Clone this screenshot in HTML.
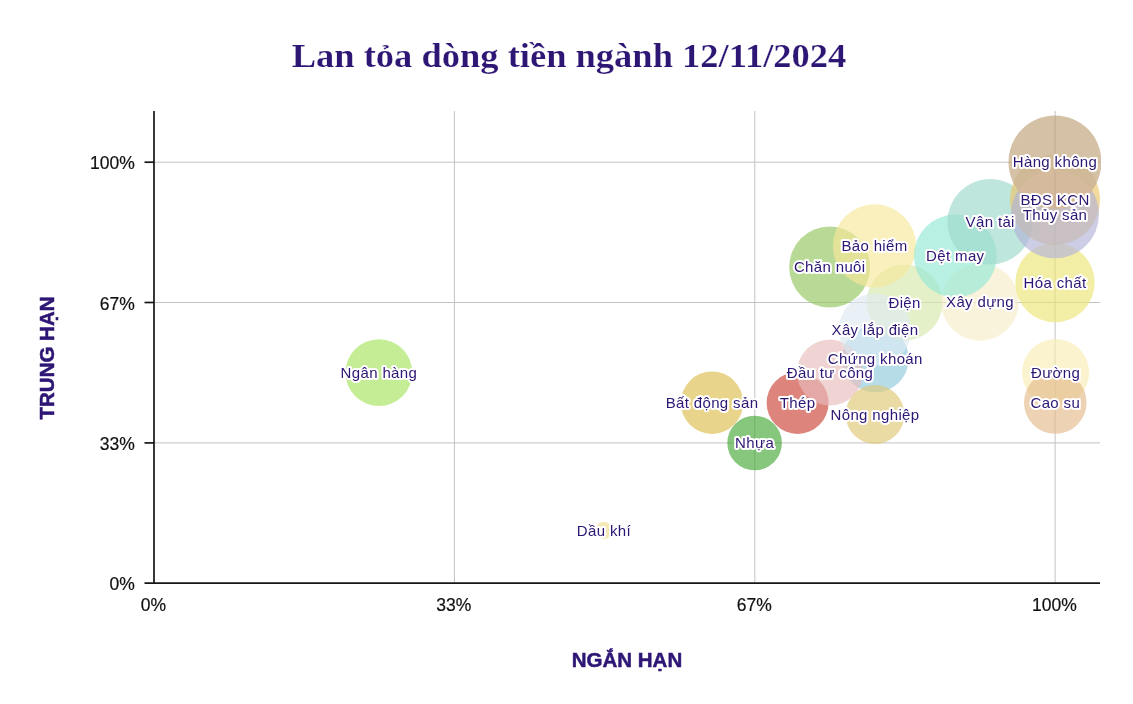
<!DOCTYPE html>
<html lang="vi"><head><meta charset="utf-8"><title>Lan tỏa dòng tiền ngành 12/11/2024</title>
<style>
html,body{margin:0;padding:0;background:#fff}
svg{display:block}
.tick{font-family:"Liberation Sans",sans-serif;font-size:17.5px;fill:#111;stroke:#111;stroke-width:0.2px}
.lab{font-family:"Liberation Sans",sans-serif;font-size:15px;fill:#2d1674;stroke:#fff;stroke-width:4px;stroke-linejoin:round;paint-order:stroke fill;text-anchor:middle;letter-spacing:0.36px}
.ax{font-family:"Liberation Sans",sans-serif;font-weight:bold;font-size:20.5px;stroke:#2d1674;stroke-width:0.5px;fill:#2d1674;text-anchor:middle}
.title{font-family:"Liberation Serif",serif;font-weight:bold;stroke:#fff;stroke-width:0.2px;font-size:34.3px;fill:#2d1674;text-anchor:middle}
</style></head><body>
<svg width="1133" height="704" viewBox="0 0 1133 704">
<rect width="1133" height="704" fill="#fff"/>
<defs><clipPath id="cBrown"><circle cx="1055" cy="162" r="46.5"/></clipPath><clipPath id="plot"><rect x="153" y="111" width="948" height="472"/></clipPath></defs>

<text class="title" transform="translate(569,67.1) scale(1.0643,1)">Lan tỏa dòng tiền ngành 12/11/2024</text>
<g stroke="#c3c3c3" stroke-width="1" fill="none">
<line x1="454.4" y1="111" x2="454.4" y2="583"/>
<line x1="754.8" y1="111" x2="754.8" y2="583"/>
<line x1="1055.1" y1="111" x2="1055.1" y2="583"/>
<line x1="154" y1="442.9" x2="1100" y2="442.9"/>
<line x1="154" y1="302.5" x2="1100" y2="302.5"/>
<line x1="154" y1="162.2" x2="1100" y2="162.2"/>
</g>
<g clip-path="url(#plot)">
<circle cx="603.9" cy="530.6" r="8.5" fill="#f0dc8c" fill-opacity="0.65"/>
<circle cx="754.6" cy="443.0" r="27.3" fill="#46a737" fill-opacity="0.65"/>
<circle cx="712.0" cy="402.7" r="31.2" fill="#dcbd4b" fill-opacity="0.65"/>
<circle cx="797.6" cy="402.9" r="31.0" fill="#cb4335" fill-opacity="0.65"/>
<circle cx="1055.6" cy="372.5" r="33.5" fill="#f7edb2" fill-opacity="0.65"/>
<circle cx="1055.3" cy="402.5" r="31.3" fill="#e5ba8c" fill-opacity="0.65"/>
<circle cx="378.9" cy="372.6" r="33.4" fill="#a6e35d" fill-opacity="0.65"/>
<circle cx="875.3" cy="358.8" r="33.5" fill="#8fc9dc" fill-opacity="0.65"/>
<circle cx="830.0" cy="372.5" r="33.0" fill="#e8bdbd" fill-opacity="0.65"/>
<circle cx="875.0" cy="414.5" r="29.4" fill="#dfc875" fill-opacity="0.65"/>
<circle cx="904.6" cy="302.4" r="38.0" fill="#d5e8aa" fill-opacity="0.65"/>
<circle cx="875.0" cy="329.8" r="36.2" fill="#dde9f3" fill-opacity="0.65"/>
<circle cx="980.0" cy="302.0" r="38.8" fill="#f7edc9" fill-opacity="0.65"/>
<circle cx="1055.0" cy="282.6" r="39.7" fill="#ede575" fill-opacity="0.65"/>
<circle cx="829.7" cy="267.0" r="40.5" fill="#93c65d" fill-opacity="0.65"/>
<circle cx="874.5" cy="245.9" r="41.6" fill="#f7e89b" fill-opacity="0.65"/>
<circle cx="955.3" cy="256.0" r="41.4" fill="#93e8d5" fill-opacity="0.65"/>
<circle cx="990.2" cy="221.8" r="42.8" fill="#9bd9c9" fill-opacity="0.65"/>
<circle cx="1055.0" cy="200.0" r="45.0" fill="#ebc66a" fill-opacity="0.65"/>
<circle cx="1055.0" cy="214.3" r="44.0" fill="#b2b2d9" fill-opacity="0.65"/>
<circle cx="1055.0" cy="162.0" r="46.5" fill="#bda076" fill-opacity="0.65"/>
<g clip-path="url(#cBrown)"><circle cx="1055" cy="200" r="45" fill="#d0b996"/><circle cx="1055" cy="214.3" r="44" fill="#d6ba9e"/><line x1="1055" y1="171" x2="1055" y2="208" stroke="#000" stroke-opacity="0.07" stroke-width="1.2"/></g>
</g>
<g stroke="#161616" stroke-width="1.7" fill="none">
<line x1="154" y1="111" x2="154" y2="584"/>
<line x1="144.5" y1="583.2" x2="1100" y2="583.2"/>
<line x1="144.5" y1="442.9" x2="154" y2="442.9"/>
<line x1="144.5" y1="302.5" x2="154" y2="302.5"/>
<line x1="144.5" y1="162.2" x2="154" y2="162.2"/>
</g>
<text class="tick" text-anchor="end" x="134.8" y="590.2">0%</text>
<text class="tick" text-anchor="end" x="134.8" y="449.9">33%</text>
<text class="tick" text-anchor="end" x="134.8" y="309.5">67%</text>
<text class="tick" text-anchor="end" x="134.8" y="169.2">100%</text>
<text class="tick" text-anchor="middle" x="153.5" y="610.6">0%</text>
<text class="tick" text-anchor="middle" x="453.8" y="610.6">33%</text>
<text class="tick" text-anchor="middle" x="754.2" y="610.6">67%</text>
<text class="tick" text-anchor="middle" x="1054.5" y="610.6">100%</text>
<text class="ax" x="627" y="666.5">NGẮN HẠN</text>
<text class="ax" transform="translate(53.8,358) rotate(-90)">TRUNG HẠN</text>
<g>
<text class="lab" x="603.9" y="535.8">Dầu khí</text>
<text class="lab" x="754.6" y="448.2">Nhựa</text>
<text class="lab" x="712.0" y="407.9">Bất động sản</text>
<text class="lab" x="797.6" y="408.1">Thép</text>
<text class="lab" x="1055.6" y="377.7">Đường</text>
<text class="lab" x="1055.3" y="407.7">Cao su</text>
<text class="lab" x="378.9" y="377.8">Ngân hàng</text>
<text class="lab" x="875.3" y="364.0">Chứng khoán</text>
<text class="lab" x="830.0" y="377.7">Đầu tư công</text>
<text class="lab" x="875.0" y="419.7">Nông nghiệp</text>
<text class="lab" x="904.6" y="307.6">Điện</text>
<text class="lab" x="875.0" y="335.0">Xây lắp điện</text>
<text class="lab" x="980.0" y="307.2">Xây dựng</text>
<text class="lab" x="1055.0" y="287.8">Hóa chất</text>
<text class="lab" x="829.7" y="272.2">Chăn nuôi</text>
<text class="lab" x="874.5" y="251.1">Bảo hiểm</text>
<text class="lab" x="955.3" y="261.2">Dệt may</text>
<text class="lab" x="990.2" y="227.0">Vận tải</text>
<text class="lab" x="1055.0" y="205.2">BĐS KCN</text>
<text class="lab" x="1055.0" y="219.5">Thủy sản</text>
<text class="lab" x="1055.0" y="167.2">Hàng không</text>
</g>
</svg></body></html>
